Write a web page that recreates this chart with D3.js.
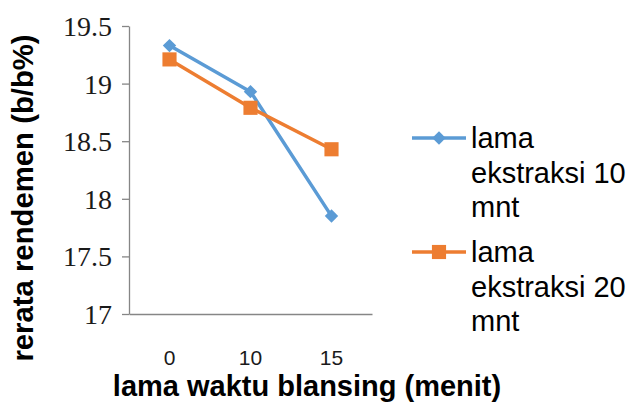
<!DOCTYPE html>
<html>
<head>
<meta charset="utf-8">
<script src="https://cdn.jsdelivr.net/npm/d3@7/dist/d3.min.js"></script>
<style>
  html, body { margin: 0; padding: 0; background: #fff; }
  svg { display: block; }
</style>
</head>
<body>
<svg id="chart" width="630" height="406"></svg>
<script>
// Blanching time categories (menit)
const categories = ["0", "10", "15"];
// Mean yield per extraction time (b/b%)
const ekstraksi10 = [19.33, 18.93, 17.85];
const ekstraksi20 = [19.21, 18.79, 18.43];
const yTicks = [17, 17.5, 18, 18.5, 19, 19.5];
const yTickLabels = ["17", "17.5", "18", "18.5", "19", "19.5"];
const seriesNames = [["lama", "ekstraksi 10", "mnt"], ["lama", "ekstraksi 20", "mnt"]];

const series = [
  { values: ekstraksi10, color: "#5B9BD5", marker: "diamond", lines: seriesNames[0] },
  { values: ekstraksi20, color: "#ED7D31", marker: "square", lines: seriesNames[1] }
];

const svg = d3.select("#chart");
const plot = { left: 129, right: 372, top: 26, bottom: 314 };

const x = d3.scaleBand().domain(categories).range([plot.left, plot.right]);
const y = d3.scaleLinear().domain([17, 19.5]).range([plot.bottom, plot.top]);
const cx = c => x(c) + x.bandwidth() / 2;

const axisColor = "#868686";

// Y axis
const yAxis = svg.append("g")
  .attr("transform", `translate(${plot.left},0)`)
  .call(d3.axisLeft(y).tickValues(yTicks)
    .tickFormat((d, i) => yTickLabels[i]).tickSize(7).tickSizeOuter(0).tickPadding(10));
yAxis.select(".domain").attr("stroke", axisColor).attr("stroke-width", 1.3);
yAxis.selectAll(".tick line").attr("stroke", axisColor).attr("stroke-width", 1.3);
yAxis.selectAll(".tick text")
  .attr("fill", "#1a1a1a")
  .attr("font-family", "'Liberation Serif', 'DejaVu Serif', serif")
  .attr("font-size", 28)
  .attr("dy", "0.34em");

// X axis
const xAxis = svg.append("g")
  .attr("transform", `translate(0,${plot.bottom})`)
  .call(d3.axisBottom(x).tickSize(0).tickSizeOuter(0).tickPadding(36));
xAxis.select(".domain").attr("stroke", axisColor).attr("stroke-width", 1.3);
xAxis.selectAll(".tick text")
  .attr("fill", "#1a1a1a")
  .attr("font-family", "'Liberation Sans', Arial, sans-serif")
  .attr("font-size", 21);

// Axis titles
svg.append("text")
  .attr("x", 307).attr("y", 396)
  .attr("text-anchor", "middle")
  .attr("font-family", "'Liberation Sans', Arial, sans-serif")
  .attr("font-weight", "bold")
  .attr("font-size", 29)
  .attr("fill", "#000")
  .text("lama waktu blansing (menit)");

svg.append("text")
  .attr("transform", "translate(33,198) rotate(-90)")
  .attr("text-anchor", "middle")
  .attr("font-family", "'Liberation Sans', Arial, sans-serif")
  .attr("font-weight", "bold")
  .attr("font-size", 29.3)
  .attr("fill", "#000")
  .text("rerata rendemen (b/b%)");

// Diamond = square turned 45°, square = plain square
const markerPath = m => m === "diamond"
  ? d3.symbol().type(d3.symbolSquare).size(90)()
  : d3.symbol().type(d3.symbolSquare).size(200)();
const markerRotation = m => m === "diamond" ? 45 : 0;

// Series lines and markers
const line = d3.line().x((d, i) => cx(categories[i])).y(d => y(d));
series.forEach(s => {
  svg.append("path")
    .attr("d", line(s.values))
    .attr("fill", "none")
    .attr("stroke", s.color)
    .attr("stroke-width", 3.5)
    .attr("stroke-linejoin", "round");
  svg.selectAll(null).data(s.values).enter().append("path")
    .attr("d", markerPath(s.marker))
    .attr("transform", (d, i) => `translate(${cx(categories[i])},${y(d)}) rotate(${markerRotation(s.marker)})`)
    .attr("fill", s.color);
});

// Legend
const legendRows = [{ y: 138 }, { y: 252 }];
series.forEach((s, k) => {
  const ly = legendRows[k].y;
  const g = svg.append("g");
  g.append("line")
    .attr("x1", 412).attr("x2", 466).attr("y1", ly).attr("y2", ly)
    .attr("stroke", s.color).attr("stroke-width", 3.5);
  g.append("path")
    .attr("d", markerPath(s.marker))
    .attr("transform", `translate(439,${ly}) rotate(${markerRotation(s.marker)})`)
    .attr("fill", s.color);
  const t = g.append("text")
    .attr("font-family", "'Liberation Sans', Arial, sans-serif")
    .attr("font-size", 29)
    .attr("fill", "#000");
  s.lines.forEach((txt, j) => {
    t.append("tspan").attr("x", 471).attr("y", ly + 10 + j * 34.5).text(txt);
  });
});
</script>
</body>
</html>
